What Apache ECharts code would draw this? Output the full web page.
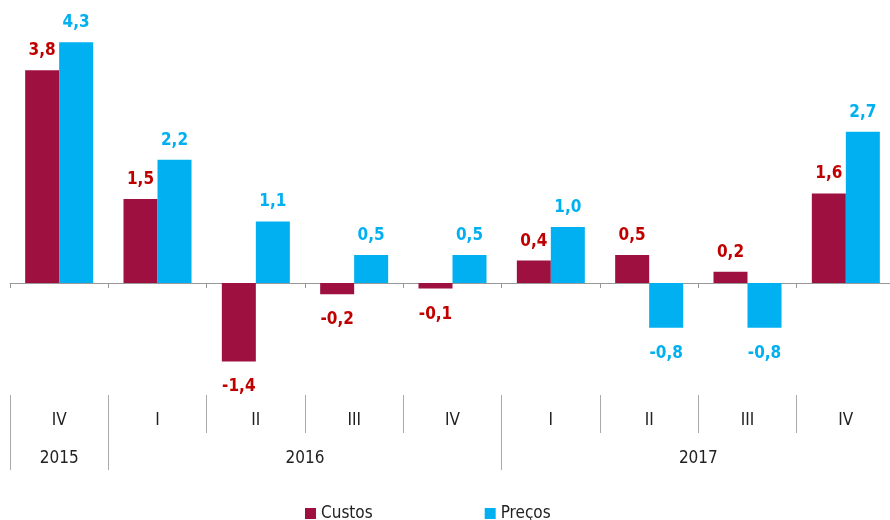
<!DOCTYPE html>
<html>
<head>
<meta charset="utf-8">
<script src="https://cdn.jsdelivr.net/npm/echarts@6/dist/echarts.min.js"></script>
<style>
    html, body {margin: 0; padding: 0; background: #fff;}
    #chart {width: 890px; height: 520px;}
</style>
</head>
<body>
<div id="chart"></div>
<script>
    // quarters, the year each group of quarters belongs to, and the two series
    var quarters = ['IV', 'I', 'II', 'III', 'IV', 'I', 'II', 'III', 'IV'];
    var years = ['2015', '2016', '2017'];
    var yearSpans = [1, 4, 4];
    var custos = [3.8, 1.5, -1.4, -0.2, -0.1, 0.4, 0.5, 0.2, 1.6];
    var precos = [4.3, 2.2, 1.1, 0.5, 0.5, 1.0, -0.8, -0.8, 2.7];

    var COL_CUSTOS = '#9E1040';
    var LBL_CUSTOS = '#C00000';
    var COL_PRECOS = '#00B0F0';
    var FONT = '"Liberation Sans Narrow", "DejaVu Sans Condensed", sans-serif';

    function fmt(v) {
        return v.toFixed(1).replace('.', ',');
    }

    function barData(arr) {
        return arr.map(function (v) {
            return {
                value: v,
                label: v < 0 ? {position: 'bottom', distance: 17} : {position: 'top', distance: 11}
            };
        });
    }

    // year row: half-quarter points, label in the middle of each span, lines on the span edges
    var yearPoints = [];
    var yearEdges = {0: true};
    var pos = 0;
    for (var i = 0; i <= 2 * quarters.length; i++) yearPoints.push('');
    years.forEach(function (y, k) {
        yearPoints[pos + yearSpans[k]] = y;
        pos += 2 * yearSpans[k];
        yearEdges[pos] = true;
    });

    var myChart = echarts.init(document.getElementById('chart'));
    var grid = function (top, height) {
        return {left: 10, width: 885, top: top, height: height, outerBoundsMode: 'none', containLabel: false};
    };
    var option = {
        animation: false,
        textStyle: {fontFamily: FONT},
        legend: {
            left: 300,
            top: 500,
            itemWidth: 11,
            itemHeight: 11,
            itemGap: 112,
            icon: 'rect',
            textStyle: {fontSize: 17, color: '#222', fontFamily: FONT},
            data: ['Custos', 'Preços']
        },
        grid: [grid(31, 336), grid(395, 38), grid(433, 37)],
        xAxis: [
            {
                gridIndex: 0,
                type: 'category',
                data: quarters,
                axisLine: {onZero: true, lineStyle: {color: '#999', width: 1}},
                axisTick: {show: true, length: 5, lineStyle: {color: '#999'}},
                axisLabel: {show: false}
            },
            {
                gridIndex: 1,
                type: 'category',
                data: quarters,
                axisLine: {show: false},
                axisTick: {show: false},
                splitLine: {show: true, interval: 0, lineStyle: {color: '#aaa', width: 1}},
                axisLabel: {
                    interval: 0,
                    verticalAlign: 'middle',
                    margin: -12,
                    fontSize: 17,
                    color: '#222',
                    fontFamily: FONT
                }
            },
            {
                gridIndex: 2,
                type: 'category',
                boundaryGap: false,
                data: yearPoints,
                axisLine: {show: false},
                axisTick: {show: false},
                splitLine: {
                    show: true,
                    interval: function (idx) { return !!yearEdges[idx]; },
                    lineStyle: {color: '#aaa', width: 1}
                },
                axisLabel: {
                    interval: 0,
                    verticalAlign: 'middle',
                    margin: -11,
                    fontSize: 17,
                    color: '#222',
                    fontFamily: FONT
                }
            }
        ],
        yAxis: [
            {gridIndex: 0, type: 'value', min: -1.5, max: 4.5, show: false, splitLine: {show: false}},
            {gridIndex: 1, type: 'value', show: false, splitLine: {show: false}},
            {gridIndex: 2, type: 'value', show: false, splitLine: {show: false}}
        ],
        series: [
            {
                name: 'Custos',
                type: 'bar',
                barWidth: 34,
                barGap: '0%',
                itemStyle: {color: COL_CUSTOS},
                label: {
                    show: true,
                    color: LBL_CUSTOS,
                    fontSize: 17,
                    fontWeight: 'bold',
                    fontFamily: FONT,
                    formatter: function (p) { return fmt(p.value); }
                },
                data: barData(custos)
            },
            {
                name: 'Preços',
                type: 'bar',
                barWidth: 34,
                barGap: '0%',
                itemStyle: {color: COL_PRECOS},
                label: {
                    show: true,
                    color: COL_PRECOS,
                    fontSize: 17,
                    fontWeight: 'bold',
                    fontFamily: FONT,
                    formatter: function (p) { return fmt(p.value); }
                },
                data: barData(precos)
            }
        ]
    };

    myChart.setOption(option);
</script>
</body>
</html>
